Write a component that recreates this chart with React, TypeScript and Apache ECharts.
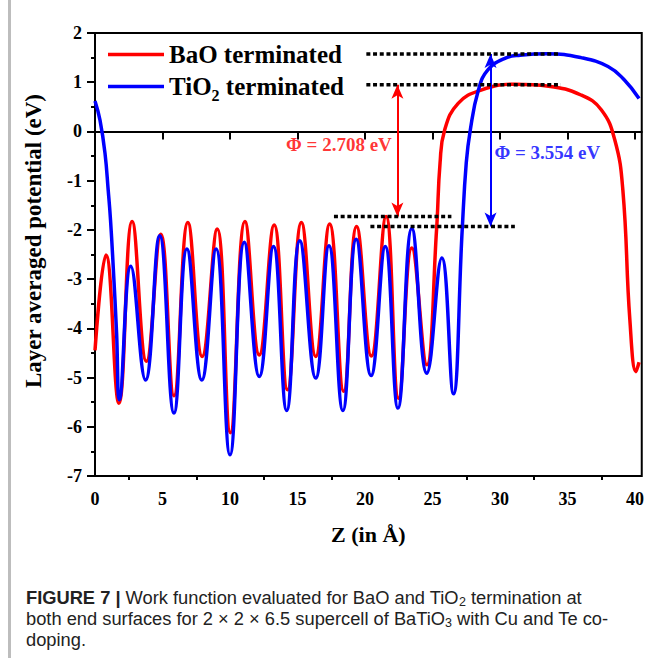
import React, { useEffect, useRef } from "react";
import * as echarts from "echarts";

// ---- data ----
const baoCurve: [number, number][] = [
  [0, -4.45], [0.81, -2.51], [1.77, -5.52], [2.75, -1.83], [3.81, -4.67], [4.87, -2.09],
  [5.85, -5.37], [6.88, -1.85], [7.94, -4.57], [9.05, -1.98], [10.03, -6.12], [11.11, -1.83],
  [12.17, -4.54], [13.27, -1.9], [14.26, -5.25], [15.29, -1.85], [16.35, -4.57], [17.38, -1.88],
  [18.42, -5.28], [19.38, -1.93], [20.47, -4.56], [21.56, -1.73], [22.49, -5.42], [23.47, -2.37],
  [24.58, -4.74], [25.3, -2.0], [25.56, -0.64], [25.9, 0.03], [26.9, 0.57], [28.6, 0.84],
  [31.1, 0.96], [33.6, 0.92], [36.0, 0.74], [37.5, 0.44], [38.5, -0.17], [39.1, -1.19],
  [39.62, -3.83], [40.07, -4.88], [40.3, -4.69],
];

const tio2Curve: [number, number][] = [
  [0, 0.62], [0.37, 0.23], [0.74, -0.44], [0.98, -1.2], [1.15, -1.8], [1.35, -2.75],
  [1.6, -4.1], [1.8, -5.45], [2.65, -2.74], [3.74, -5.05], [4.79, -2.12], [5.85, -5.72],
  [6.81, -2.39], [7.91, -5.05], [8.97, -2.39], [10.0, -6.57], [11.06, -2.25], [12.17, -4.98],
  [13.22, -2.34], [14.2, -5.67], [15.17, -2.22], [16.35, -5.01], [17.33, -2.32], [18.36, -5.67],
  [19.35, -2.19], [20.45, -4.96], [21.5, -2.34], [22.44, -5.62], [23.47, -1.97], [24.58, -4.91],
  [25.69, -2.57], [26.55, -5.33], [27.2, -2.0], [27.5, -0.64], [27.8, 0.03], [28.4, 0.84],
  [29.1, 1.25], [30.4, 1.49], [31.5, 1.55], [33.5, 1.58], [36.0, 1.5], [38.0, 1.32],
  [39.2, 1.05], [40.3, 0.67],
];

// reference levels (dotted lines): [zStart, zEnd, value]
const baoVacuum = [20.1, 34.5, 0.95];
const baoBulk = [17.7, 26.4, -1.73];
const tio2Vacuum = [20.1, 34.4, 1.574];
const tio2Bulk = [20.4, 31.1, -1.93];

// arrows: [z, top, bottom]
const baoArrow = [22.4, 0.95, -1.73];
const tio2Arrow = [29.3, 1.574, -1.93];

const baoLabel = "Φ = 2.708 eV";
const tio2Label = "Φ = 3.554 eV";
const baoLabelPos: [number, number] = [18.07, -0.27];
const tio2LabelPos: [number, number] = [33.5, -0.42];

const xMajorTicks = [0, 5, 10, 15, 20, 25, 30, 35, 40];
const xMinorTicks = [2.5, 7.5, 12.5, 17.5, 22.5, 27.5, 32.5, 37.5];

const SERIF = "'Liberation Serif', 'Times New Roman', serif";
const SANS = "'Liberation Sans', Arial, sans-serif";
const CAP = 18.3;

export default function App() {
  const ref = useRef<HTMLDivElement>(null);
  useEffect(() => {
    if (!ref.current) return;
    const chart = echarts.init(ref.current, null, { renderer: "svg" });

    const dotted = (lv: number[]) => ({
      type: "line",
      data: [[lv[0], lv[2]], [lv[1], lv[2]]],
      symbol: "none",
      silent: true,
      z: 5,
      lineStyle: { color: "#000", width: 3.5, type: [4, 2.7], cap: "butt" },
    });
    const arrow = (a: number[], color: string) => ({
      type: "line",
      data: [],
      silent: true,
      markLine: {
        silent: true,
        symbol: ["arrow", "arrow"],
        symbolSize: [9, 14],
        label: { show: false },
        lineStyle: { color, width: 2, type: "solid" },
        data: [[{ coord: [a[0], a[1]] }, { coord: [a[0], a[2]] }]],
      },
    });
    const textLabel = (pos: [number, number], text: string, color: string) => ({
      type: "scatter",
      data: [pos],
      symbolSize: 0,
      silent: true,
      label: {
        show: true,
        position: "inside",
        formatter: text,
        color,
        fontFamily: SERIF,
        fontWeight: "bold",
        fontSize: 19,
      },
    });
    const sub = {
      fontFamily: SANS,
      fontSize: 12.5,
      lineHeight: 6,
      verticalAlign: "top",
      padding: [7, 0, 0, 0],
      fill: "#222",
    };

    chart.setOption({
      animation: false,
      grid: {
        left: 95,
        top: 33,
        width: 550,
        height: 443,
        show: true,
        borderColor: "#000",
        borderWidth: 2,
        backgroundColor: "transparent",
      },
      legend: {
        data: ["BaO terminated", "TiO2 terminated"],
        orient: "vertical",
        left: 108,
        top: 42,
        padding: 0,
        itemWidth: 56,
        itemHeight: 3.5,
        itemGap: 7,
        icon: "rect",
        formatter: (n: string) =>
          n === "TiO2 terminated" ? "{n|TiO}{s|2}{n| terminated}" : "{n|" + n + "}",
        textStyle: {
          rich: {
            n: { fontFamily: SERIF, fontWeight: "bold", fontSize: 25, lineHeight: 25, color: "#000" },
            s: {
              fontFamily: SERIF,
              fontWeight: "bold",
              fontSize: 16,
              lineHeight: 6,
              verticalAlign: "top",
              padding: [13, 0, 0, 0],
              color: "#000",
            },
          },
        },
      },
      xAxis: [
        {
          type: "value",
          min: 0,
          max: 40.5,
          position: "bottom",
          axisLine: { show: true, lineStyle: { color: "#000", width: 2 } },
          axisTick: { show: true, length: 8, customValues: xMajorTicks, lineStyle: { color: "#000", width: 2 } },
          axisLabel: {
            customValues: xMajorTicks,
            margin: 14,
            color: "#000",
            fontFamily: SERIF,
            fontWeight: "bold",
            fontSize: 18,
          },
          splitLine: { show: false },
          name: "Z (in Å)",
          nameLocation: "middle",
          nameGap: 47,
          nameTextStyle: { color: "#000", fontFamily: SERIF, fontWeight: "bold", fontSize: 22 },
        },
        {
          type: "value",
          min: 0,
          max: 40.5,
          position: "bottom",
          axisLine: { show: false },
          axisTick: { show: true, length: 4, customValues: xMinorTicks, lineStyle: { color: "#000", width: 2 } },
          axisLabel: { show: false },
          splitLine: { show: false },
        },
      ],
      yAxis: {
        type: "value",
        min: -7,
        max: 2,
        interval: 1,
        axisLine: { show: true, lineStyle: { color: "#000", width: 2 } },
        axisTick: { show: true, length: 8, lineStyle: { color: "#000", width: 2 } },
        minorTick: { show: true, splitNumber: 2, length: 4, lineStyle: { color: "#000", width: 2 } },
        axisLabel: {
          margin: 13,
          color: "#000",
          fontFamily: SERIF,
          fontWeight: "bold",
          fontSize: 18,
        },
        splitLine: { show: false },
      },
      graphic: [
        { type: "rect", shape: { x: 8, y: 0, width: 3, height: 658 }, style: { fill: "#bdbdbd" }, z: 100 },
        {
          type: "text",
          x: 33,
          y: 241,
          rotation: Math.PI / 2,
          style: {
            text: "Layer averaged potential (eV)",
            fontFamily: SERIF,
            fontWeight: "bold",
            fontSize: 23,
            fill: "#000",
            align: "center",
            verticalAlign: "middle",
          },
        },
        {
          type: "text",
          x: 26,
          y: 597,
          style: {
            text: "{b|FIGURE 7 |} Work function evaluated for BaO and TiO{s|2} termination at",
            fontFamily: SANS,
            fontSize: CAP,
            fill: "#222",
            verticalAlign: "middle",
            rich: {
              b: { fontFamily: SANS, fontSize: CAP, fontWeight: "bold", fill: "#222" },
              s: sub,
            },
          },
        },
        {
          type: "text",
          x: 26,
          y: 618,
          style: {
            text: "both end surfaces for 2 × 2 × 6.5 supercell of BaTiO{s|3} with Cu and Te co-",
            fontFamily: SANS,
            fontSize: CAP,
            fill: "#222",
            verticalAlign: "middle",
            rich: {
              s: sub,
            },
          },
        },
        {
          type: "text",
          x: 26,
          y: 639,
          style: { text: "doping.", fontFamily: SANS, fontSize: CAP, fill: "#222", verticalAlign: "middle" },
        },
      ],
      series: [
        {
          name: "BaO terminated",
          type: "line",
          data: baoCurve,
          smooth: 0.45,
          symbol: "none",
          color: "#ff0000",
          lineStyle: { color: "#ff0000", width: 3.5 },
          z: 3,
        },
        {
          name: "TiO2 terminated",
          type: "line",
          data: tio2Curve,
          smooth: 0.45,
          symbol: "none",
          color: "#0000ff",
          lineStyle: { color: "#0000ff", width: 3.5 },
          z: 4,
        },
        dotted(baoVacuum),
        dotted(baoBulk),
        dotted(tio2Vacuum),
        dotted(tio2Bulk),
        arrow(baoArrow, "#ff0000"),
        arrow(tio2Arrow, "#0000ff"),
        textLabel(baoLabelPos, baoLabel, "#ff0000"),
        textLabel(tio2LabelPos, tio2Label, "#0000ff"),
      ],
    });
    return () => chart.dispose();
  }, []);
  return (
    <div
      ref={ref}
      style={{ position: "absolute", left: 0, top: 0, width: 647, height: 658, background: "#fff" }}
    />
  );
}
